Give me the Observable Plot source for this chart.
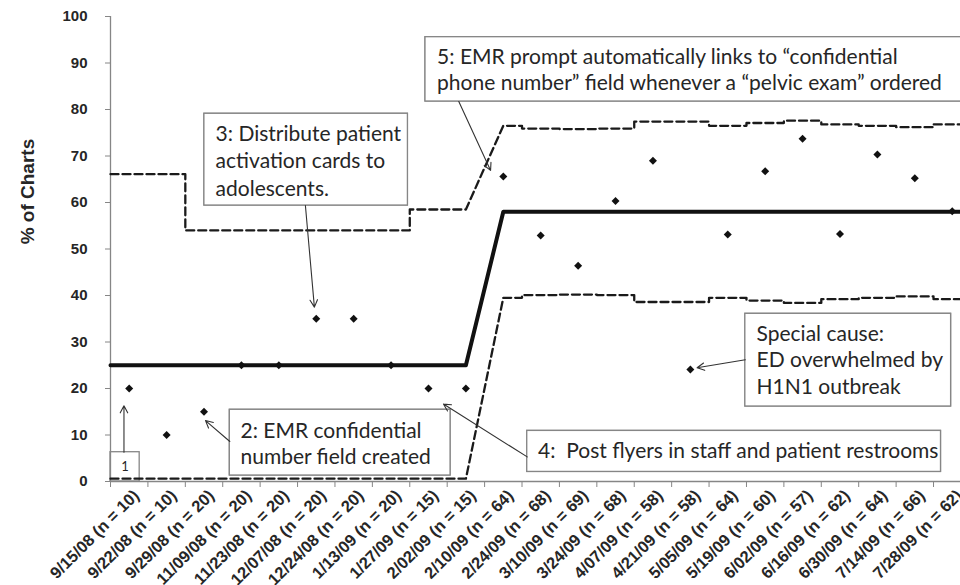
<!DOCTYPE html>
<html>
<head>
<meta charset="utf-8">
<script src="https://cdn.jsdelivr.net/npm/d3@7"></script>
<script src="https://cdn.jsdelivr.net/npm/@observablehq/plot@0.6"></script>
<style>
  html, body { margin: 0; padding: 0; background: #fff; overflow: hidden; }
  #chart { width: 960px; height: 585px; overflow: hidden; }
</style>
</head>
<body>
<div id="chart"></div>
<script>
// ---------------- data ----------------
const dates = ["9/15/08","9/22/08","9/29/08","11/09/08","11/23/08","12/07/08","12/24/08","1/13/09","1/27/09","2/02/09",
               "2/10/09","2/24/09","3/10/09","3/24/09","4/07/09","4/21/09","5/05/09","5/19/09","6/02/09","6/16/09",
               "6/30/09","7/14/09","7/28/09"];
const sampleN = [10,10,20,20,20,20,20,20,15,15,64,68,69,68,58,58,64,60,57,62,64,66,62];
const percent = [20,10,15,25,25,35,35,25,20,20,65.6,52.9,46.4,60.3,69.0,24.1,53.1,66.7,73.7,53.2,70.3,65.2,58.1];
const centerLine = [25,25,25,25,25,25,25,25,25,25,58,58,58,58,58,58,58,58,58,58,58,58,58];
const upperLimit = [66.1,66.1,54,54,54,54,54,54,58.5,58.5,76.5,75.9,75.8,75.9,77.4,77.4,76.5,77.1,77.6,76.8,76.5,76.2,76.8];
const lowerLimit = [0.6,0.6,0.6,0.6,0.6,0.6,0.6,0.6,0.6,0.6,39.5,40.1,40.2,40.1,38.6,38.6,39.5,38.9,38.4,39.2,39.5,39.8,39.2];
const phaseStart = 10;           // first subgroup of the second phase
const yTicks = [0,10,20,30,40,50,60,70,80,90,100];

// annotation boxes, text lines and arrows (in data units: category index, percent)
const boxes = [
  {x1: -0.5, x2: 0.28, y1: 0,     y2: 6.3,   fill: "none"},
  {x1: 2.69, x2: 8.59, y1: 1.29,  y2: 15.42, fill: "white"},
  {x1: 2.01, x2: 7.45, y1: 59.35, y2: 79.08, fill: "white"},
  {x1: 10.64,x2: 21.70,y1: 2.06,  y2: 10.88, fill: "white"},
  {x1: 7.92, x2: 23.5, y1: 81.72, y2: 95.55, fill: "white"},
  {x1: 16.47,x2: 21.97,y1: 16.13, y2: 36.06, fill: "white"}
];
const noteLines = [
  {x: 2.975, y: 9.4,   text: "2: EMR confidential"},
  {x: 2.975, y: 3.8,   text: "number field created"},
  {x: 2.31,  y: 73.33, text: "3: Distribute patient"},
  {x: 2.31,  y: 67.38, text: "activation cards to"},
  {x: 2.31,  y: 61.5,  text: "adolescents."},
  {x: 10.93, y: 4.95,  text: "4:  Post flyers in staff and patient restrooms"},
  {x: 8.23,  y: 89.83, text: "5: EMR prompt automatically links to \u201Cconfidential"},
  {x: 8.23,  y: 84.09, text: "phone number\u201D field whenever a \u201Cpelvic exam\u201D ordered"},
  {x: 16.77, y: 30.32, text: "Special cause:"},
  {x: 16.77, y: 24.58, text: "ED overwhelmed by"},
  {x: 16.77, y: 18.86, text: "H1N1 outbreak"}
];
const smallNote = [{x: -0.11, y: 3.1, text: "1"}];
const arrows = [
  {x1: -0.14, y1: 6.3,   x2: -0.14, y2: 16.3},
  {x1: 2.69,  y1: 8.6,   x2: 2.04,  y2: 13.1},
  {x1: 4.71,  y1: 59.35, x2: 4.95,  y2: 37.5},
  {x1: 10.64, y1: 5.29,  x2: 8.40,  y2: 16.65},
  {x1: 8.81,  y1: 81.72, x2: 9.66,  y2: 66.9},
  {x1: 16.47, y1: 26.17, x2: 15.18, y2: 24.45}
];

// ---------------- derived series ----------------
const points = percent.map((v, i) => ({i, v}));
const labels = dates.map((d, i) => ({i, label: `${d} (n = ${sampleN[i]})`}));
const boundaries = d3.range(-0.5, dates.length, 1);

const centerPath = [{x: -0.5, y: centerLine[0]}]
  .concat(centerLine.map((v, i) => ({x: i, y: v})))
  .concat([{x: dates.length - 0.5, y: centerLine[centerLine.length - 1]}]);

function stepPath(values) {
  const out = [];
  values.forEach((v, i) => {
    const left = i === phaseStart ? i : i - 0.5;
    const right = i === phaseStart - 1 ? i : i + 0.5;
    out.push({x: left, y: v}, {x: right, y: v});
  });
  return out;
}
const uclPath = stepPath(upperLimit);
const lclPath = stepPath(lowerLimit);

const axisGray = "#868686";
const ink = "#262626";
const noteFont = "Lato, 'Open Sans', sans-serif";

const chart = Plot.plot({
  width: 960,
  height: 585,
  marginLeft: 110,
  marginRight: 0,
  marginTop: 16,
  marginBottom: 104,
  style: {fontFamily: "'Liberation Sans', Arial, sans-serif", background: "white", color: ink, overflow: "hidden"},
  x: {domain: [-0.5, dates.length - 0.5], range: [110, 110 + 37.41 * dates.length]},
  y: {domain: [0, 100]},
  marks: [
    Plot.ruleY([0], {stroke: axisGray, strokeWidth: 1.3}),
    Plot.ruleX([-0.5], {stroke: axisGray, strokeWidth: 1.3}),
    Plot.axisY({ticks: yTicks, tickSize: 5, tickPadding: 18, stroke: axisGray, fill: ink,
                fontSize: 15, fontWeight: "bold", label: null}),
    Plot.axisX({ticks: boundaries, tickSize: 6, tickFormat: () => "", stroke: axisGray, label: null}),
    Plot.text(labels, {x: "i", frameAnchor: "bottom", text: "label", rotate: -45, textAnchor: "end",
                       lineAnchor: "bottom", dx: 11, dy: 15, fontSize: 16.5, fontWeight: "bold", fill: ink,
                       ariaLabel: "x-labels"}),
    Plot.text(["% of Charts"], {frameAnchor: "left", y: 51, rotate: -90, dx: -83, fontSize: 19,
                               fontWeight: "bold", fill: ink}),
    Plot.rect(boxes, {x1: "x1", x2: "x2", y1: "y1", y2: "y2", fill: "fill", stroke: axisGray, strokeWidth: 1.3}),
    // control limits and center line
    Plot.line(uclPath, {x: "x", y: "y", stroke: "#1a1a1a", strokeWidth: 2.3, strokeDasharray: "8,4"}),
    Plot.line(lclPath, {x: "x", y: "y", stroke: "#1a1a1a", strokeWidth: 2.3, strokeDasharray: "8,4"}),
    Plot.line(centerPath, {x: "x", y: "y", stroke: "#111", strokeWidth: 4}),
    Plot.dot(points, {x: "i", y: "v", symbol: "diamond2", r: 3.6, fill: "#111", stroke: "none"}),
    Plot.rect(boxes.filter(b => b.fill !== "none"), {x1: "x1", x2: "x2", y1: "y1", y2: "y2", fill: "white", stroke: axisGray, strokeWidth: 1.3}),
    Plot.text(noteLines, {x: "x", y: "y", text: "text", textAnchor: "start", lineAnchor: "bottom",
                          fontFamily: noteFont, fontSize: 21, fill: ink}),
    Plot.text(smallNote, {x: "x", y: "y", text: "text", fontFamily: noteFont, fontSize: 13, fill: ink}),
    Plot.arrow(arrows, {x1: "x1", y1: "y1", x2: "x2", y2: "y2", stroke: "#333", strokeWidth: 1.1,
                        headLength: 11, headAngle: 55})
  ]
});

document.getElementById("chart").appendChild(chart);

// y tick labels: bold, 15px
chart.querySelectorAll('g[aria-label="y-axis tick label"]').forEach(g => {
  g.setAttribute("font-size", "15");
  g.setAttribute("font-weight", "bold");
  g.querySelectorAll("text").forEach(t => { t.style.fontSize = "15px"; t.style.fontWeight = "bold"; });
});

// italic "n" in the category labels
chart.querySelectorAll('g[aria-label="x-labels"] text').forEach(t => {
  const s = t.textContent;
  const m = s.match(/^(.*\()n(.*)$/);
  if (!m) return;
  t.textContent = "";
  const ns = "http://www.w3.org/2000/svg";
  const a = document.createElementNS(ns, "tspan"); a.textContent = m[1];
  const b = document.createElementNS(ns, "tspan"); b.textContent = "n"; b.setAttribute("font-style", "italic");
  const c = document.createElementNS(ns, "tspan"); c.textContent = m[2];
  t.append(a, b, c);
});
</script>
</body>
</html>
